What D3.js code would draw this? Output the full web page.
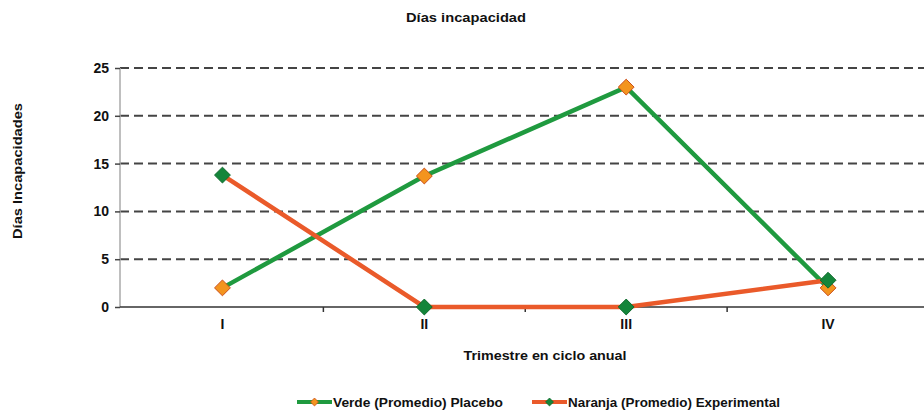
<!DOCTYPE html>
<html>
<head>
<meta charset="utf-8">
<script src="https://cdn.jsdelivr.net/npm/d3@7"></script>
<style>
  html, body { margin: 0; padding: 0; background: #fff; }
  svg { display: block; font-family: "Liberation Sans", Arial, sans-serif; }
</style>
</head>
<body>
<svg id="chart" width="924" height="410"></svg>
<script>
// Quarters of the annual cycle
const categories = ["I", "II", "III", "IV"];
// Average days of incapacity per group
const placebo = [2, 13.7, 23, 2];          // Verde (Promedio) Placebo
const experimental = [13.8, 0, 0, 2.8];    // Naranja (Promedio) Experimental
const yTicks = [0, 5, 10, 15, 20, 25];

const seriesNames = ["Verde (Promedio) Placebo", "Naranja (Promedio) Experimental"];

const svg = d3.select("#chart");
const plotLeft = 120, plotRight = 924, plotTop = 68, plotBottom = 307;

// Category bands run slightly past the visible right edge
const x = d3.scaleBand().domain(categories).range([plotLeft + 1.5, plotRight + 5]).paddingInner(0).paddingOuter(0);
const y = d3.scaleLinear().domain([0, 25]).range([plotBottom, plotTop]);
const cx = c => x(c) + x.bandwidth() / 2;

const green = "#1f9a3f", orange = "#ea5a2a";
const greenMark = "#14853a", greenMarkStroke = "#0f6b2d";
const orangeMark = "#f3941e", orangeMarkStroke = "#cc4f1c";

// Title
svg.append("text").attr("x", 466).attr("y", 22).attr("text-anchor", "middle")
  .attr("font-size", 13).attr("font-weight", "bold").attr("fill", "#111")
  .attr("textLength", 120).attr("lengthAdjust", "spacingAndGlyphs")
  .text("Días incapacidad");

// Dashed horizontal gridlines
svg.append("g").selectAll("line").data(yTicks.filter(v => v > 0)).join("line")
  .attr("x1", plotLeft).attr("x2", plotRight)
  .attr("y1", d => y(d)).attr("y2", d => y(d))
  .attr("stroke", "#444").attr("stroke-width", 2).attr("stroke-dasharray", "9,5");

// Y axis
const yAxis = svg.append("g").attr("transform", `translate(${plotLeft},0)`)
  .call(d3.axisLeft(y).tickValues(yTicks).tickSize(5).tickPadding(6));
yAxis.select(".domain").attr("stroke", "#aaa").attr("stroke-width", 1.5).attr("d", `M0,${plotTop}V${plotBottom}`);
yAxis.selectAll(".tick line").attr("stroke", "#444").attr("stroke-width", 1.5);
yAxis.selectAll(".tick text").attr("font-size", 14).attr("font-weight", "bold")
  .attr("fill", "#111").attr("font-family", "Liberation Sans, Arial, sans-serif");

// X axis baseline with ticks at band boundaries
const xAxis = svg.append("g").attr("transform", `translate(0,${plotBottom})`)
  .call(d3.axisBottom(x).tickSize(0).tickPadding(12));
xAxis.select(".domain").attr("stroke", "#333").attr("stroke-width", 1.5)
  .attr("d", `M${plotLeft},0H${plotRight}`);
xAxis.selectAll(".tick text").attr("font-size", 14).attr("font-weight", "bold")
  .attr("fill", "#111").attr("font-family", "Liberation Sans, Arial, sans-serif");
svg.append("g").selectAll("line").data(categories.slice(1)).join("line")
  .attr("x1", d => x(d)).attr("x2", d => x(d))
  .attr("y1", plotBottom).attr("y2", plotBottom + 5)
  .attr("stroke", "#333").attr("stroke-width", 1.5);

// Axis titles
svg.append("text").attr("transform", "translate(22,171) rotate(-90)")
  .attr("text-anchor", "middle").attr("font-size", 12).attr("font-weight", "bold").attr("fill", "#111")
  .attr("textLength", 136).attr("lengthAdjust", "spacingAndGlyphs")
  .text("Días Incapacidades");
svg.append("text").attr("x", 545).attr("y", 360).attr("text-anchor", "middle")
  .attr("font-size", 13).attr("font-weight", "bold").attr("fill", "#111")
  .attr("textLength", 163).attr("lengthAdjust", "spacingAndGlyphs")
  .text("Trimestre en ciclo anual");

// Lines
const line = d3.line().x((d, i) => cx(categories[i])).y(d => y(d));
svg.append("path").datum(placebo).attr("d", line)
  .attr("fill", "none").attr("stroke", green).attr("stroke-width", 4.5);
svg.append("path").datum(experimental).attr("d", line)
  .attr("fill", "none").attr("stroke", orange).attr("stroke-width", 4.5);

// Diamond markers
const diamond = d3.symbol().type(d3.symbolDiamond2).size(160);
svg.append("g").selectAll("path").data(placebo).join("path")
  .attr("d", diamond)
  .attr("transform", (d, i) => `translate(${cx(categories[i])},${y(d)})`)
  .attr("fill", orangeMark).attr("stroke", orangeMarkStroke).attr("stroke-width", 1);
svg.append("g").selectAll("path").data(experimental).join("path")
  .attr("d", diamond)
  .attr("transform", (d, i) => `translate(${cx(categories[i])},${y(d)})`)
  .attr("fill", greenMark).attr("stroke", greenMarkStroke).attr("stroke-width", 1);

// Legend
const legend = [
  { name: seriesNames[0], line: green, fill: orangeMark, stroke: orangeMarkStroke, x: 297, textLen: 170 },
  { name: seriesNames[1], line: orange, fill: greenMark, stroke: greenMarkStroke, x: 532, textLen: 212 }
];
const lg = svg.append("g").selectAll("g").data(legend).join("g")
  .attr("transform", d => `translate(${d.x},402)`);
lg.append("line").attr("x1", 0).attr("x2", 35).attr("y1", 0).attr("y2", 0)
  .attr("stroke", d => d.line).attr("stroke-width", 4);
lg.append("path").attr("d", d3.symbol().type(d3.symbolDiamond2).size(40)())
  .attr("transform", "translate(17.5,0)")
  .attr("fill", d => d.fill).attr("stroke", d => d.stroke).attr("stroke-width", 0.8);
lg.append("text").attr("x", 36).attr("y", 4.5)
  .attr("font-size", 12).attr("font-weight", "bold").attr("fill", "#111")
  .attr("textLength", d => d.textLen).attr("lengthAdjust", "spacingAndGlyphs")
  .text(d => d.name);
</script>
</body>
</html>
